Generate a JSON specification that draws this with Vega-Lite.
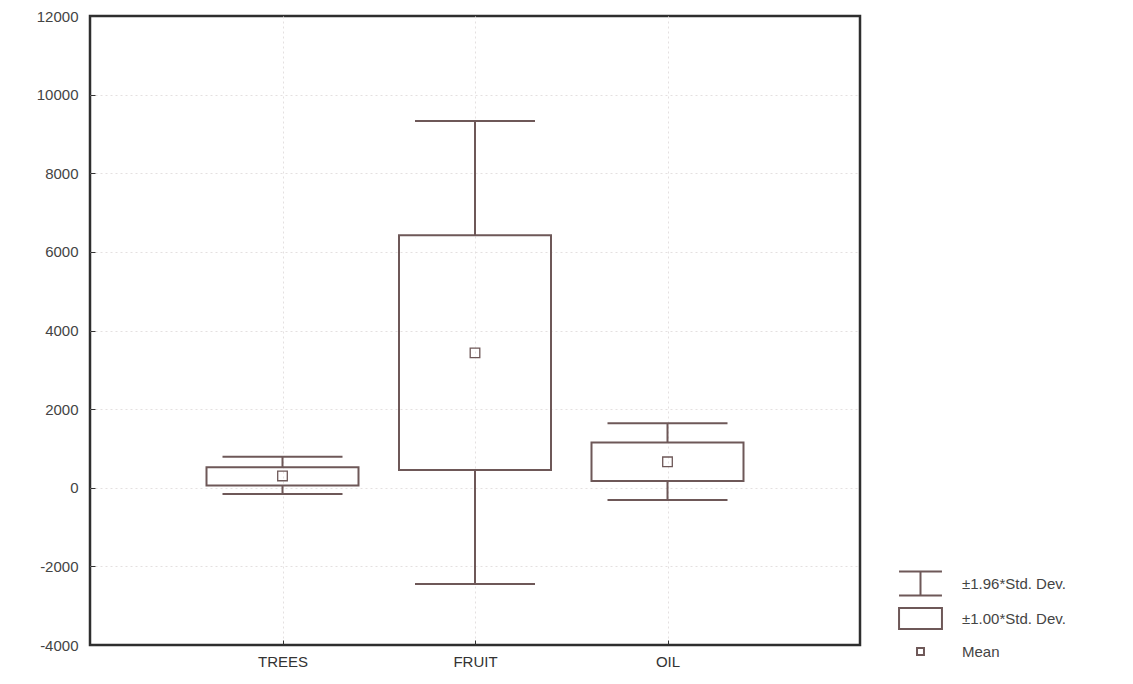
{
  "$schema": "https://vega.github.io/schema/vega-lite/v6.json",
  "width": 770,
  "height": 629,
  "autosize": {"type": "none"},
  "padding": {"left": 90, "top": 16, "right": 273, "bottom": 39},
  "background": "white",
  "config": {
    "view": {"stroke": "#2e2e2e", "strokeWidth": 2.5},
    "font": "Liberation Sans"
  },
  "data": {
    "values": [
      {"var": "TREES", "lo196": -160, "lo1": 60, "mean": 300, "hi1": 520, "hi196": 790},
      {"var": "FRUIT", "lo196": -2450, "lo1": 450, "mean": 3430, "hi1": 6420, "hi196": 9330},
      {"var": "OIL", "lo196": -310, "lo1": 170, "mean": 660, "hi1": 1150, "hi196": 1640}
    ]
  },
  "encoding": {
    "x": {
      "field": "var",
      "type": "nominal",
      "sort": ["TREES", "FRUIT", "OIL"],
      "scale": {"type": "point", "padding": 1},
      "axis": {
        "title": null,
        "labelAngle": 0,
        "labelFontSize": 15,
        "labelColor": "#333333",
        "labelPadding": 14,
        "domain": false,
        "tickSize": -5,
        "tickColor": "#333333",
        "grid": true,
        "gridColor": "#e4e0e0",
        "gridDash": [2, 3]
      }
    }
  },
  "layer": [
    {
      "mark": {"type": "rule", "color": "#6e5858", "strokeWidth": 2},
      "encoding": {
        "y": {
          "field": "hi1",
          "type": "quantitative",
          "scale": {"domain": [-4000, 12000], "nice": false, "zero": false},
          "axis": {
            "title": null,
            "values": [-4000, -2000, 0, 2000, 4000, 6000, 8000, 10000, 12000],
            "labelExpr": "toString(datum.value)",
            "labelFontSize": 15,
            "labelColor": "#444444",
            "labelPadding": 17,
            "domain": false,
            "tickSize": -5,
            "tickColor": "#333333",
            "grid": true,
            "gridColor": {
              "condition": {"test": "datum.value == 12000 || datum.value == -4000", "value": "transparent"},
              "value": "#e4e0e0"
            },
            "gridDash": [2, 3]
          }
        },
        "y2": {"field": "hi196"}
      }
    },
    {
      "mark": {"type": "rule", "color": "#6e5858", "strokeWidth": 2},
      "encoding": {
        "y": {"field": "lo196", "type": "quantitative"},
        "y2": {"field": "lo1"}
      }
    },
    {
      "mark": {"type": "tick", "color": "#6e5858", "size": 120, "thickness": 2, "opacity": 1},
      "encoding": {"y": {"field": "hi196", "type": "quantitative"}}
    },
    {
      "mark": {"type": "tick", "color": "#6e5858", "size": 120, "thickness": 2, "opacity": 1},
      "encoding": {"y": {"field": "lo196", "type": "quantitative"}}
    },
    {
      "mark": {"type": "bar", "size": 152, "fill": "white", "fillOpacity": 0, "stroke": "#6e5858", "strokeWidth": 2},
      "encoding": {
        "y": {"field": "lo1", "type": "quantitative"},
        "y2": {"field": "hi1"}
      }
    },
    {
      "mark": {"type": "point", "filled": false, "color": "#6e5858", "strokeWidth": 1.3, "size": 1600, "opacity": 1},
      "encoding": {
        "y": {"field": "mean", "type": "quantitative"},
        "shape": {
          "datum": "Mean",
          "type": "nominal",
          "scale": {
            "domain": ["±1.96*Std. Dev.", "±1.00*Std. Dev.", "Mean"],
            "range": [
              "M-1.48,-0.83H1.48M0,-0.83V0.83M-1.48,0.83H1.48",
              "M-1.48,-0.72H1.48V0.72H-1.48Z",
              "M-0.24,-0.24H0.24V0.24H-0.24Z"
            ]
          },
          "legend": {
            "title": null,
            "orient": "none",
            "legendX": 815,
            "legendY": 552,
            "padding": 0,
            "symbolSize": 841,
            "symbolStrokeColor": "#6e5858",
            "symbolFillColor": "transparent",
            "symbolStrokeWidth": 2,
            "labelFontSize": 15,
            "labelColor": "#444444",
            "labelOffset": 26,
            "rowPadding": 3
          }
        }
      }
    }
  ]
}
